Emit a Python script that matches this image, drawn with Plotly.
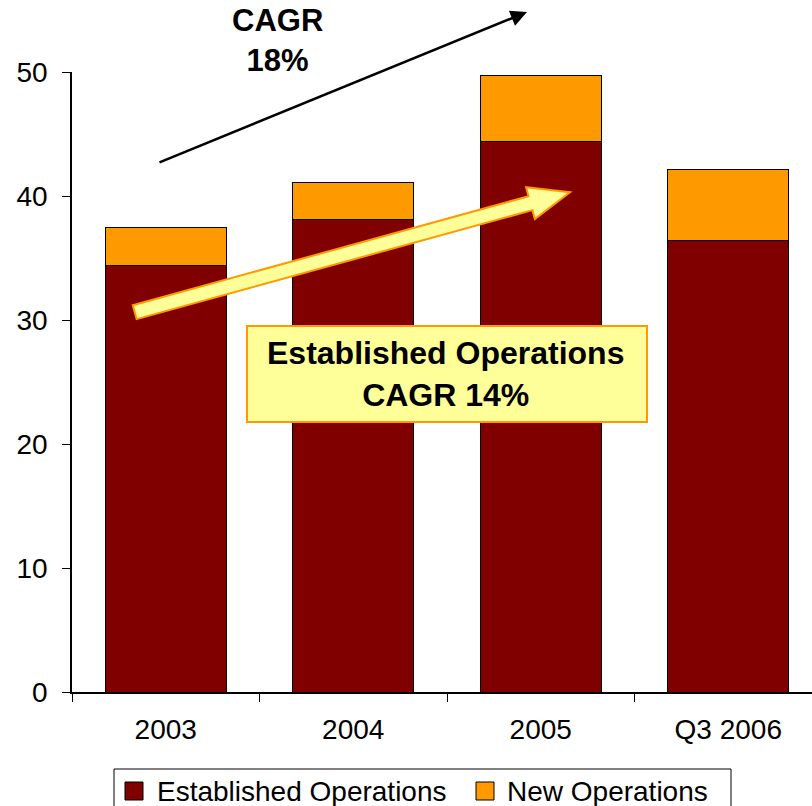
import math
import plotly.graph_objects as go

# Revenue by period, split into established and new operations
periods = ["2003", "2004", "2005", "Q3 2006"]
established = [34.4, 38.1, 44.4, 36.4]
new_ops = [3.1, 3.0, 5.3, 5.7]
y_ticks = [0, 10, 20, 30, 40, 50]
series_names = ["Established Operations", "New Operations"]

W, H = 812, 806
M_L, M_R, M_T, M_B = 72, 0, 72, 114
PLOT_W = W - M_L - M_R
PLOT_H = H - M_T - M_B

FONT = "Liberation Sans, Arial, sans-serif"
DARK_RED = "#800000"
ORANGE = "#FF9900"
PALE_YELLOW = "#FFFF99"
series_colors = [DARK_RED, ORANGE]


def to_paper(px, py):
    """Pixel position inside the figure -> paper coordinates."""
    return (px - M_L) / PLOT_W, (M_T + PLOT_H - py) / PLOT_H


def fat_arrow_path(tail, tip, half_w, head_half_w, head_len):
    """SVG path (paper coords) of a block arrow from tail to tip."""
    dx, dy = tip[0] - tail[0], tip[1] - tail[1]
    ln = math.hypot(dx, dy)
    ux, uy = dx / ln, dy / ln
    nx, ny = -uy, ux
    base = (tip[0] - ux * head_len, tip[1] - uy * head_len)
    pts = [
        (tail[0] + nx * half_w, tail[1] + ny * half_w),
        (base[0] + nx * half_w, base[1] + ny * half_w),
        (base[0] + nx * head_half_w, base[1] + ny * head_half_w),
        tip,
        (base[0] - nx * head_half_w, base[1] - ny * head_half_w),
        (base[0] - nx * half_w, base[1] - ny * half_w),
        (tail[0] - nx * half_w, tail[1] - ny * half_w),
    ]
    pp = [to_paper(*p) for p in pts]
    return "M " + " L ".join(f"{x:.5f},{y:.5f}" for x, y in pp) + " Z"


def rect_paper(px0, py0, px1, py1, **kw):
    x0, y0 = to_paper(px0, py1)
    x1, y1 = to_paper(px1, py0)
    fig.add_shape(type="rect", xref="paper", yref="paper",
                  x0=x0, y0=y0, x1=x1, y1=y1, layer="above", **kw)


fig = go.Figure()
for name, vals, col in zip(series_names, [established, new_ops], series_colors):
    fig.add_trace(go.Bar(
        x=periods, y=vals, name=name, showlegend=False,
        marker=dict(color=col, line=dict(color="black", width=1)),
    ))

# Block arrow for established-operations growth
fig.add_shape(
    type="path", xref="paper", yref="paper",
    path=fat_arrow_path((134.7, 312.2), (570, 192.3), 7.2, 16.5, 41),
    fillcolor=PALE_YELLOW, line=dict(color=ORANGE, width=2), layer="above",
)

# Callout box
rect_paper(247, 326, 647, 422, fillcolor=PALE_YELLOW,
           line=dict(color=ORANGE, width=2))
cx, cy = to_paper(446, 374)
fig.add_annotation(
    xref="paper", yref="paper", x=cx, y=cy, showarrow=False,
    xanchor="center", yanchor="middle",
    text="<b>Established Operations<br>CAGR 14%</b>",
    font=dict(family=FONT, size=32, color="black"),
    align="center",
)

# Overall growth arrow and label
hx, hy = to_paper(527, 12)
fig.add_annotation(
    xref="paper", yref="paper", x=hx, y=hy,
    axref="pixel", ayref="pixel", ax=158 - 527, ay=163 - 12,
    showarrow=True, arrowhead=2, arrowwidth=2.5, arrowsize=1.3,
    arrowcolor="black", text="",
)
tx, ty = to_paper(277, 40)
fig.add_annotation(
    xref="paper", yref="paper", x=tx, y=ty, showarrow=False,
    xanchor="center", yanchor="middle",
    text="<b>CAGR<br>18%</b>",
    font=dict(family=FONT, size=31, color="black"),
    align="center",
)

# Legend box with swatches
rect_paper(114, 769, 731, 830, fillcolor="rgba(0,0,0,0)",
           line=dict(color="black", width=1))
for (sw_x, txt_x), name, col in zip([(125, 155), (476, 505)],
                                    series_names, series_colors):
    rect_paper(sw_x, 782, sw_x + 18, 800, fillcolor=col,
               line=dict(color="black", width=1))
    lx, ly = to_paper(txt_x, 791)
    fig.add_annotation(
        xref="paper", yref="paper", x=lx, y=ly, showarrow=False,
        xanchor="left", yanchor="middle", text=name,
        font=dict(family=FONT, size=28, color="black"),
    )

fig.update_layout(
    width=W, height=H,
    margin=dict(l=M_L, r=M_R, t=M_T, b=M_B, autoexpand=False),
    paper_bgcolor="white", plot_bgcolor="white",
    barmode="stack", bargap=0.355,
    font=dict(family=FONT, size=28, color="black"),
    showlegend=False,
    xaxis=dict(
        type="category", range=[-0.5, -0.5 + PLOT_W / 187.5],
        showline=True, linecolor="black", linewidth=1.5,
        ticks="outside", tickson="boundaries", ticklen=8, tickcolor="black",
        tickfont=dict(family=FONT, size=28), ticklabelstandoff=12,
        showgrid=False, zeroline=False, fixedrange=True,
    ),
    yaxis=dict(
        range=[0, 50], tickvals=y_ticks,
        showline=True, linecolor="black", linewidth=1.5,
        ticks="outside", ticklen=8, tickcolor="black",
        tickfont=dict(family=FONT, size=28), ticklabelstandoff=9,
        showgrid=False, zeroline=False, fixedrange=True,
    ),
)

fig.write_html("out.html")
